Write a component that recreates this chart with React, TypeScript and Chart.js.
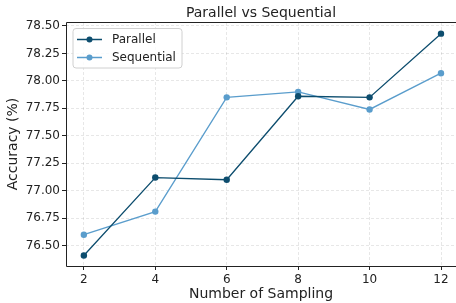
import React, { useEffect, useRef } from "react";
import { Chart, registerables } from "chart.js";

Chart.register(...registerables);

const samplingCounts = [2, 4, 6, 8, 10, 12];
const parallelAcc = [76.41, 77.12, 77.1, 77.86, 77.85, 78.43];
const sequentialAcc = [76.6, 76.81, 77.85, 77.9, 77.74, 78.07];
const yTickValues = [76.5, 76.75, 77.0, 77.25, 77.5, 77.75, 78.0, 78.25, 78.5];
const seriesNames = ["Parallel", "Sequential"];
const seriesColors = ["#0d4d6e", "#5a9dcc"];
const chartTitle = "Parallel vs Sequential";

const FONT = "'DejaVu Sans', sans-serif";

const framePlugin = {
  id: "frameAndLegend",
  afterDraw(chart: any) {
    const { ctx, chartArea } = chart;
    const { left, top, right, bottom } = chartArea;
    ctx.save();
    ctx.strokeStyle = "#222";
    ctx.lineWidth = 1;
    ctx.beginPath();
    ctx.moveTo(right + 2, top + 0.5);
    ctx.lineTo(left + 0.5, top + 0.5);
    ctx.lineTo(left + 0.5, bottom + 0.5);
    ctx.lineTo(right + 2, bottom + 0.5);
    ctx.stroke();

    // title centred over the axes
    ctx.font = `14px ${FONT}`;
    ctx.fillStyle = "#222";
    ctx.textAlign = "center";
    ctx.textBaseline = "middle";
    ctx.fillText(chartTitle, (left + right) / 2, 13.3);
    ctx.textAlign = "left";

    // legend box
    const bx = left + 7, by = top + 6.5, bw = 109, bh = 39.5, r = 3;
    ctx.beginPath();
    ctx.moveTo(bx + r, by);
    ctx.lineTo(bx + bw - r, by);
    ctx.arcTo(bx + bw, by, bx + bw, by + r, r);
    ctx.lineTo(bx + bw, by + bh - r);
    ctx.arcTo(bx + bw, by + bh, bx + bw - r, by + bh, r);
    ctx.lineTo(bx + r, by + bh);
    ctx.arcTo(bx, by + bh, bx, by + bh - r, r);
    ctx.lineTo(bx, by + r);
    ctx.arcTo(bx, by, bx + r, by, r);
    ctx.closePath();
    ctx.fillStyle = "rgba(255,255,255,0.8)";
    ctx.fill();
    ctx.strokeStyle = "#d0d0d0";
    ctx.lineWidth = 1;
    ctx.stroke();

    ctx.font = `12px ${FONT}`;
    ctx.textBaseline = "middle";
    seriesNames.forEach((name, i) => {
      const y = by + 11 + i * 18;
      ctx.strokeStyle = seriesColors[i];
      ctx.lineWidth = 1.5;
      ctx.beginPath();
      ctx.moveTo(bx + 4, y);
      ctx.lineTo(bx + 29, y);
      ctx.stroke();
      ctx.fillStyle = seriesColors[i];
      ctx.beginPath();
      ctx.arc(bx + 16.5, y, 3, 0, Math.PI * 2);
      ctx.fill();
      ctx.fillStyle = "#222";
      ctx.fillText(name, bx + 39, y + 0.5);
    });
    ctx.restore();
  },
};

export default function App() {
  const ref = useRef<HTMLCanvasElement | null>(null);
  useEffect(() => {
    if (!ref.current) return;
    const mk = (vals: number[]) => samplingCounts.map((x, i) => ({ x, y: vals[i] }));
    const chart = new Chart(ref.current, {
      type: "line",
      data: {
        datasets: [
          { label: seriesNames[0], data: mk(parallelAcc), borderColor: seriesColors[0], backgroundColor: seriesColors[0], borderWidth: 1.3, pointRadius: 3.2, pointBorderWidth: 0 },
          { label: seriesNames[1], data: mk(sequentialAcc), borderColor: seriesColors[1], backgroundColor: seriesColors[1], borderWidth: 1.3, pointRadius: 3.2, pointBorderWidth: 0 },
        ],
      },
      options: {
        responsive: false,
        animation: false,
        layout: { padding: { left: 0, top: 22, bottom: 0, right: 0 } },
        plugins: {
          legend: { display: false },
          tooltip: { enabled: false },
          title: { display: false },
        },
        scales: {
          x: {
            type: "linear",
            min: 1.5,
            max: 12.42,
            afterBuildTicks: (s: any) => { s.ticks = samplingCounts.map((v) => ({ value: v })); },
            afterFit: (s: any) => { s.height = 37; },
            ticks: { color: "#222", font: { family: FONT, size: 12 }, padding: 3, maxRotation: 0 },
            grid: { color: "rgba(0,0,0,0.12)", lineWidth: 0.8, tickColor: "#222", tickBorderDash: [], tickLength: 4, tickWidth: 1 },
            border: { display: false, dash: [3, 2] },
            title: { display: true, text: "Number of Sampling", color: "#222", font: { family: FONT, size: 14 }, padding: { top: 0, bottom: 0.5 } },
          },
          y: {
            type: "linear",
            min: 76.315,
            max: 78.536,
            afterBuildTicks: (s: any) => { s.ticks = yTickValues.map((v) => ({ value: v })); },
            afterFit: (s: any) => { s.width = 66; },
            ticks: { color: "#222", font: { family: FONT, size: 12 }, padding: 2, callback: (v: any) => Number(v).toFixed(2) },
            grid: { color: "rgba(0,0,0,0.12)", lineWidth: 0.8, tickColor: "#222", tickBorderDash: [], tickLength: 4, tickWidth: 1 },
            border: { display: false, dash: [3, 2] },
            title: { display: true, text: "Accuracy (%)", color: "#222", font: { family: FONT, size: 14 }, padding: { top: 5, bottom: 0 } },
          },
        },
      },
      plugins: [framePlugin],
    } as any);
    return () => chart.destroy();
  }, []);
  return (
    <div style={{ position: "fixed", left: 0, top: 0, width: 456, height: 303, background: "#fff", overflow: "hidden" }}>
      <canvas ref={ref} width={460} height={303} style={{ display: "block" }} />
    </div>
  );
}
